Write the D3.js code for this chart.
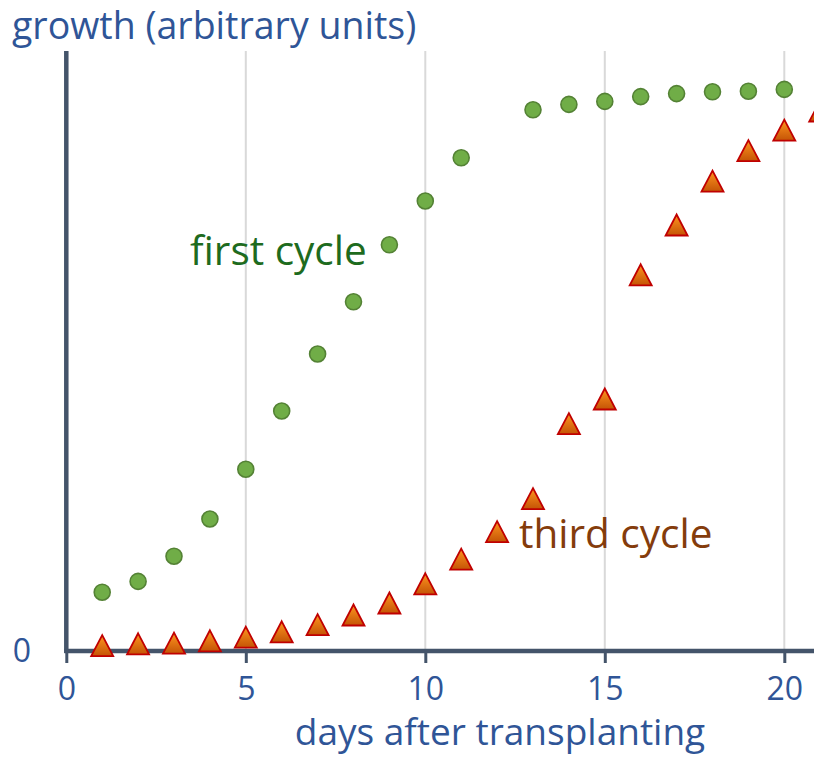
<!DOCTYPE html>
<html>
<head>
<meta charset="utf-8">
<script src="https://cdn.jsdelivr.net/npm/d3@7"></script>
<style>
  body { margin: 0; background: #fff; }
  text { font-family: "Open Sans", sans-serif; }
</style>
</head>
<body>
<div id="chart"></div>
<script>
// data (growth in arbitrary units, axis top = 100)
var firstDays   = [1, 2, 3, 4, 5, 6, 7, 8, 9, 10, 11, 13, 14, 15, 16, 17, 18, 19, 20];
var firstGrowth = [9.8, 11.6, 15.8, 22.0, 30.3, 40.0, 49.5, 58.2, 67.7, 75.0, 82.2, 90.2, 91.1, 91.6, 92.4, 92.9, 93.2, 93.3, 93.6];
var thirdDays   = [1, 2, 3, 4, 5, 6, 7, 8, 9, 10, 11, 12, 13, 14, 15, 16, 17, 18, 19, 20, 21];
var thirdGrowth = [0.9, 1.2, 1.3, 1.7, 2.3, 3.2, 4.4, 6.0, 8.0, 11.2, 15.3, 19.9, 25.4, 37.9, 42.0, 62.7, 71.0, 78.3, 83.4, 86.8, 90.0];
var xTicks = [0, 5, 10, 15, 20];
var yTicks = [0];

var W = 814, H = 765;
var svg = d3.select("#chart").append("svg")
    .attr("width", W)
    .attr("height", H);

var x = d3.scaleLinear().domain([0, 20]).range([66.3, 784.3]);
var y = d3.scaleLinear().domain([0, 100]).range([651, 51]);

var defs = svg.append("defs");
var grad = defs.append("linearGradient")
    .attr("id", "tri")
    .attr("x1", 0).attr("y1", 0).attr("x2", 0).attr("y2", 1);
grad.append("stop").attr("offset", "0%").attr("stop-color", "#ff9620");
grad.append("stop").attr("offset", "100%").attr("stop-color", "#c45406");

// vertical gridlines
svg.append("g")
  .selectAll("line")
  .data(xTicks.filter(d => d > 0))
  .enter().append("line")
    .attr("x1", d => x(d)).attr("x2", d => x(d))
    .attr("y1", y(100)).attr("y2", y(0))
    .attr("stroke", "#d9d9d9")
    .attr("stroke-width", 2);

// x axis
var xAxis = svg.append("g")
    .attr("transform", "translate(0," + y(0) + ")")
    .call(d3.axisBottom(x).tickValues(xTicks).tickSize(12).tickPadding(14).tickSizeOuter(0));
xAxis.select(".domain").remove();
xAxis.selectAll(".tick line").attr("stroke", "#44546a").attr("stroke-width", 3);
xAxis.selectAll(".tick text")
    .attr("fill", "#2f5597")
    .style("font-size", "32px");

svg.append("line")
    .attr("x1", x(0) - 2).attr("x2", W)
    .attr("y1", y(0)).attr("y2", y(0))
    .attr("stroke", "#44546a")
    .attr("stroke-width", 4.5);

// y axis
svg.append("line")
    .attr("x1", x(0)).attr("x2", x(0))
    .attr("y1", y(100)).attr("y2", y(0) + 2)
    .attr("stroke", "#44546a")
    .attr("stroke-width", 4.5);

svg.selectAll(".ylab")
  .data(yTicks)
  .enter().append("text")
    .attr("class", "ylab")
    .attr("x", 22)
    .attr("y", d => y(d))
    .attr("dy", "0.35em")
    .attr("text-anchor", "middle")
    .attr("fill", "#2f5597")
    .style("font-size", "32px")
    .text(d => d);

// axis titles
svg.append("text")
    .attr("x", 12).attr("y", 39)
    .attr("fill", "#2f5597")
    .style("font-size", "37.5px")
    .text("growth (arbitrary units)");

svg.append("text")
    .attr("x", 500).attr("y", 745)
    .attr("text-anchor", "middle")
    .attr("fill", "#2f5597")
    .style("font-size", "37px")
    .text("days after transplanting");

// first cycle
svg.append("g")
  .selectAll("circle")
  .data(firstDays)
  .enter().append("circle")
    .attr("cx", d => x(d))
    .attr("cy", (d, i) => y(firstGrowth[i]))
    .attr("r", 8)
    .attr("fill", "#70ad47")
    .attr("stroke", "#548235")
    .attr("stroke-width", 1.6);

// third cycle
var triH = 21, triW = 22;
svg.append("g")
  .selectAll("path")
  .data(thirdDays)
  .enter().append("path")
    .attr("transform", (d, i) => "translate(" + x(d) + "," + y(thirdGrowth[i]) + ")")
    .attr("d", "M0," + (-triH / 2) + "L" + (triW / 2) + "," + (triH / 2) + "L" + (-triW / 2) + "," + (triH / 2) + "Z")
    .attr("fill", "url(#tri)")
    .attr("stroke", "#c00000")
    .attr("stroke-width", 1.8)
    .attr("stroke-linejoin", "miter");

// series labels
svg.append("text")
    .attr("x", 190).attr("y", 265)
    .attr("fill", "#1e6b1e")
    .style("font-size", "40.5px")
    .text("first cycle");

svg.append("text")
    .attr("x", 519).attr("y", 548)
    .attr("fill", "#843c0c")
    .style("font-size", "40.5px")
    .text("third cycle");
</script>
</body>
</html>
